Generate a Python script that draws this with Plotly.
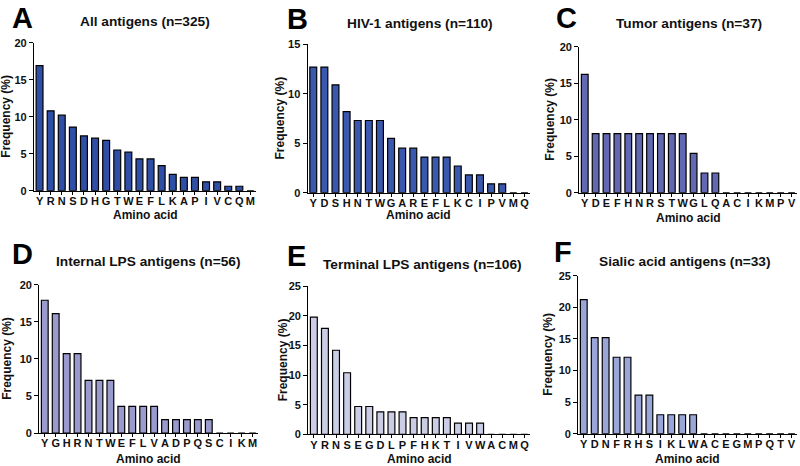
import plotly.graph_objects as go

W, H = 800, 466

# ---- data ----
a_letters = ["Y","R","N","S","D","H","G","T","W","E","F","L","K","A","P","I","V","C","Q","M"]
a_values = [16.9,10.8,10.2,8.6,7.4,7.1,6.8,5.5,5.2,4.3,4.3,3.4,2.2,1.8,1.8,1.2,1.2,0.6,0.6,0]

b_letters = ["Y","D","S","H","N","T","W","G","A","R","E","F","L","K","C","I","P","V","M","Q"]
b_values = [12.7,12.7,10.9,8.2,7.3,7.3,7.3,5.5,4.5,4.5,3.6,3.6,3.6,2.7,1.8,1.8,0.9,0.9,0,0]

c_letters = ["Y","D","E","F","H","N","R","S","T","W","G","L","Q","A","C","I","K","M","P","V"]
c_values = [16.2,8.1,8.1,8.1,8.1,8.1,8.1,8.1,8.1,8.1,5.4,2.7,2.7,0,0,0,0,0,0,0]

d_letters = ["Y","G","H","R","N","T","W","E","F","L","V","A","D","P","Q","S","C","I","K","M"]
d_values = [17.9,16.1,10.7,10.7,7.1,7.1,7.1,3.6,3.6,3.6,3.6,1.8,1.8,1.8,1.8,1.8,0,0,0,0]

e_letters = ["Y","R","N","S","E","G","D","L","P","F","H","K","T","I","V","W","A","C","M","Q"]
e_values = [19.8,17.9,14.2,10.4,4.7,4.7,3.8,3.8,3.8,2.8,2.8,2.8,2.8,1.9,1.9,1.9,0,0,0,0]

f_letters = ["Y","D","N","F","R","H","S","I","K","L","W","A","C","E","G","M","P","Q","T","V"]
f_values = [21.2,15.2,15.2,12.1,12.1,6.1,6.1,3.0,3.0,3.0,3.0,0,0,0,0,0,0,0,0,0]

titles = ["All antigens (n=325)", "HIV-1 antigens (n=110)", "Tumor antigens (n=37)",
          "Internal LPS antigens (n=56)", "Terminal LPS antigens (n=106)", "Sialic acid antigens (n=33)"]
panel_letters = ["A", "B", "C", "D", "E", "F"]
y_max = [20, 15, 20, 20, 25, 25]
y_dtick = [5, 5, 5, 5, 5, 5]

# ---- layout geometry (pixels) ----
# (x_left, x_right, y_top, y_bottom)
boxes = [(34, 256, 42.7, 190.7), (307.7, 530, 44.3, 192.7), (579.3, 797, 46.7, 192.7),
         (39.3, 258, 284.7, 433), (308.3, 530, 286.3, 434.3), (578.3, 797, 275.7, 433.7)]
colors = ["#2f4fa6", "#3a59ae", "#6268b2", "#9a9acd", "#cbcce6", "#9aa5d8"]
title_pos = [(145, 21.7), (420, 23), (689, 23.3), (148, 261), (422.5, 264.5), (685, 261.3)]
letter_pos = [(22, 18), (297, 19), (566, 18), (22, 254), (296, 256), (563, 252)]
ytitle_x = [6, 280, 550, 7, 283, 548]
xtitle_y = [215, 215, 218, 458.5, 458.5, 458.5]

data = [(a_letters, a_values), (b_letters, b_values), (c_letters, c_values),
        (d_letters, d_values), (e_letters, e_values), (f_letters, f_values)]

fig = go.Figure()
font_fam = "Liberation Sans, Arial, sans-serif"
annotations = []
layout_axes = {}

for i, ((letters, vals), box) in enumerate(zip(data, boxes)):
    n = i + 1
    xa = "x" if n == 1 else f"x{n}"
    ya = "y" if n == 1 else f"y{n}"
    fig.add_trace(go.Bar(x=letters, y=vals, xaxis=xa, yaxis=ya,
                         marker=dict(color=colors[i], line=dict(color="black", width=1.2)),
                         width=0.62, showlegend=False))
    xl, xr, yt, yb = box
    xkey = "xaxis" if n == 1 else f"xaxis{n}"
    ykey = "yaxis" if n == 1 else f"yaxis{n}"
    layout_axes[xkey] = dict(domain=[xl / W, xr / W], anchor=ya, range=[-0.5, 19.5],
                             type="category", tickmode="array", tickvals=letters, ticktext=letters,
                             tickangle=0, ticklabelstandoff=-3,
                             showline=True, linecolor="black", linewidth=1.3, automargin=False,
                             ticks="outside", ticklen=3, tickcolor="black", tickwidth=1,
                             showgrid=False, zeroline=False,
                             tickfont=dict(family=font_fam, size=11, color="#111", weight="bold"))
    layout_axes[ykey] = dict(domain=[1 - yb / H, 1 - yt / H], anchor=xa, range=[0, y_max[i]],
                             dtick=y_dtick[i], showline=True, linecolor="black", linewidth=1.3,
                             automargin=False,
                             ticks="outside", ticklen=4, tickcolor="black", tickwidth=1,
                             showgrid=False, zeroline=False,
                             tickfont=dict(family=font_fam, size=11, color="#111", weight="bold"))
    tx, ty = title_pos[i]
    annotations.append(dict(text=f"<b>{titles[i]}</b>", x=tx / W, y=1 - ty / H, xref="paper", yref="paper",
                            showarrow=False, xanchor="center", yanchor="middle",
                            font=dict(family=font_fam, size=13.7, color="#111")))
    lx, ly = letter_pos[i]
    annotations.append(dict(text=f"<b>{panel_letters[i]}</b>", x=lx / W, y=1 - ly / H, xref="paper", yref="paper",
                            showarrow=False, xanchor="center", yanchor="middle",
                            font=dict(family=font_fam, size=29, color="black")))
    annotations.append(dict(text="<b>Frequency (%)</b>", x=ytitle_x[i] / W, y=1 - (yt + yb) / 2 / H,
                            xref="paper", yref="paper", showarrow=False, textangle=-90,
                            xanchor="center", yanchor="middle",
                            font=dict(family=font_fam, size=12, color="#111")))
    annotations.append(dict(text="<b>Amino acid</b>", x=(xl + xr) / 2 / W, y=1 - xtitle_y[i] / H,
                            xref="paper", yref="paper", showarrow=False,
                            xanchor="center", yanchor="middle",
                            font=dict(family=font_fam, size=12, color="#111")))

fig.update_layout(width=W, height=H, margin=dict(l=0, r=0, t=0, b=0, autoexpand=False),
                  paper_bgcolor="white", plot_bgcolor="white",
                  annotations=annotations, **layout_axes)

fig.write_html("out.html", config={"displayModeBar": False},
               post_script="document.body.style.margin='0';")
